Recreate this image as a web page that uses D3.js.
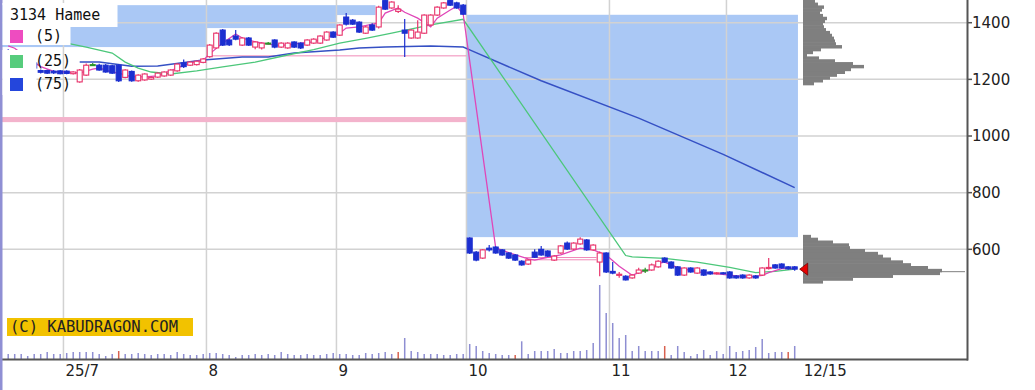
<!doctype html>
<html>
<head>
<meta charset="utf-8">
<script src="https://d3js.org/d3.v7.min.js"></script>
<style>
  body { margin: 0; background: #fff; }
  svg { display: block; }
</style>
</head>
<body>
<svg width="1035" height="390" id="chart"></svg>
<script>
// ---- data ----
var title = "3134 Hamee";
var maNames = ["(5)", "(25)", "(75)"];
var monthStarts = [9, 31, 51, 71, 93, 111];          // trading-day index of 1st day of month
var monthLabels = ["25/7", "8", "9", "10", "11", "12"];
var lastLabel = "12/15";
var priceTicks = [600, 800, 1000, 1200, 1400];

// daily candles, index 0 = first trading day shown: [open, high, low, close]
var candles = [
  [1300,1306,1282,1286],[1288,1292,1268,1271],[1272,1276,1252,1256],[1250,1266,1246,1262],[1258,1260,1236,1240],
  [1231,1235,1221,1225],[1231,1234,1219,1222],[1229,1233,1219,1223],[1230,1233,1218,1220],[1229,1232,1218,1221],
  [1220,1229,1217,1226],[1191,1237,1188,1233],[1215,1256,1212,1250],[1252,1258,1247,1252],[1250,1255,1230,1233],
  [1250,1254,1223,1226],[1248,1252,1219,1222],[1250,1253,1191,1195],[1207,1236,1204,1233],[1228,1231,1192,1195],
  [1195,1218,1192,1215],[1198,1222,1195,1219],[1201,1210,1198,1207],[1208,1225,1205,1222],[1212,1229,1209,1226],
  [1215,1236,1212,1233],[1230,1257,1227,1254],[1258,1270,1240,1245],[1250,1264,1247,1261],[1252,1267,1249,1264],
  [1260,1275,1257,1272],[1280,1325,1276,1321],[1311,1366,1308,1363],[1374,1378,1318,1321],[1339,1343,1318,1322],
  [1353,1374,1338,1342],[1321,1349,1318,1346],[1346,1350,1318,1321],[1314,1335,1306,1332],[1311,1331,1305,1328],
  [1328,1332,1324,1328],[1339,1342,1310,1314],[1314,1331,1311,1328],[1311,1331,1308,1328],[1332,1335,1311,1314],
  [1328,1331,1307,1311],[1321,1342,1318,1339],[1328,1345,1325,1342],[1328,1356,1325,1353],[1339,1370,1336,1367],
  [1367,1370,1346,1349],[1356,1395,1353,1392],[1420,1434,1390,1395],[1409,1413,1392,1395],[1402,1405,1364,1367],
  [1363,1388,1360,1385],[1392,1398,1371,1374],[1385,1460,1380,1455],[1478,1484,1445,1448],[1452,1476,1449,1473],
  [1440,1462,1434,1448],[1374,1413,1279,1363],[1346,1377,1343,1374],[1346,1409,1343,1367],[1363,1430,1360,1427],
  [1392,1430,1389,1427],[1427,1458,1424,1455],[1452,1473,1449,1470],[1478,1486,1459,1462],[1470,1474,1449,1452],
  [1462,1466,1428,1430],
  [640,643,583,587],[590,594,558,562],[569,601,566,598],[604,615,592,598],[608,611,584,587],
  [598,601,577,580],[587,590,566,569],[580,583,559,562],[558,561,542,545],[548,565,545,562],
  [590,600,569,572],[600,612,577,580],[594,597,573,576],[562,579,559,576],[587,615,584,612],
  [622,628,598,601],[601,625,598,622],[619,643,616,636],[633,636,595,598],[598,618,595,615],
  [555,592,505,587],[587,590,516,520],[522,555,512,516],[508,520,500,512],[505,508,490,492],
  [499,512,496,509],[516,535,513,527],[527,535,516,527],[527,550,524,545],[538,561,535,558],
  [569,572,552,555],[555,558,531,534],[538,541,506,509],[509,537,506,534],[534,537,517,520],
  [516,537,513,534],[527,530,506,509],[520,523,510,513],[514,520,511,517],[517,520,511,514],
  [520,523,496,499],[506,509,496,499],[509,512,496,499],[499,512,496,509],[506,509,496,499],
  [509,537,506,534],[532,569,529,536],[545,548,531,534],[548,551,531,534],[538,541,528,531],
  [538,541,524,530]
];

// volume (thousand shares), same index as candles
var volume = [
  50,50,50,30,50,50,70,50,50,60,
  70,70,70,70,50,30,50,80,50,50,
  60,50,40,50,50,40,70,50,40,40,
  50,60,60,50,40,20,40,40,50,40,
  50,40,70,50,40,40,50,40,40,50,
  60,50,50,40,40,60,50,60,70,50,
  70,210,80,70,50,50,50,40,40,50,
  50,150,130,80,60,50,40,40,40,177,
  50,80,80,80,100,60,60,80,80,90,
  160,740,460,360,210,240,80,130,80,80,
  80,130,40,130,70,30,50,90,40,80,
  50,130,70,80,90,120,200,60,70,70,
  70,130
];
var redVolumeDays = [17, 60, 78, 101, 120];

// moving averages: [day index, price]
var ma5 = [[0,1318],[1,1310],[3,1275],[5,1245],[7,1228],[9,1226],[11,1222],[13,1236],[14,1240],[16,1226],[17,1222],
  [19,1209],[21,1209],[23,1212],[26,1240],[28,1258],[30,1268],[31,1290],[33,1328],[35,1360],[36,1346],[38,1332],
  [41,1321],[43,1321],[45,1328],[47,1332],[49,1349],[51,1363],[52,1381],[54,1385],[57,1399],[58,1434],[60,1452],
  [61,1437],[63,1416],[65,1385],[66,1416],[68,1445],[69,1458],[70,1430],[75,605],[77,588],[80,566],[81,562],
  [83,572],[85,580],[88,604],[90,598],[92,580],[94,540],[96,508],[97,518],[99,530],[100,550],[101,555],[103,535],
  [106,520],[108,516],[111,509],[114,502],[116,508],[117,518],[119,532],[121,533]];
var ma25 = [[9,1328],[12,1314],[16,1293],[18,1261],[20,1240],[22,1226],[25,1219],[29,1230],[33,1244],[38,1261],
  [43,1286],[47,1305],[51,1328],[55,1345],[59,1363],[65,1392],[70,1412],[95,578],[96,573],[101,568],[106,555],
  [111,536],[115,518],[118,522],[121,530]];
var ma75 = [[11,1261],[14,1261],[19,1246],[23,1247],[30,1268],[36,1279],[40,1279],[44,1293],[51,1304],[54,1311],
  [58,1314],[65,1318],[70,1314],[71,1304],[82,1195],[97,1063],[110,935],[121,818]];

// open price gaps (windows): from day, to day, upper and lower price
var gapFrom = [-2, 31, 51, 71];
var gapTo = [31, 51, 57, 122];
var gapTop = [1462, 1462, 1462, 1428];
var gapBottom = [1314, 1381, 1427, 643];

// pink reference levels
var bandHigh = 1067, bandLow = 1049, bandFrom = -2, bandTo = 71;
var levelPrices = [1283, 571, 563];
var levelFrom = [31, 80, 80];
var levelTo = [71, 91, 91];

// volume-by-price profile: bin lower price (10 yen bins) and volume
var profileLow = [1180,1190,1200,1210,1220,1230,1240,1250,1260,1270,1280,1290,1300,1310,1320,1330,1340,1350,1360,
  1370,1380,1390,1400,1410,1420,1430,1440,1450,1460,1470,
  480,490,500,510,520,530,540,550,560,570,580,590,600,610,620,630,640];
var profileVol = [11,20,27,34,42,48,61,50,32,16,4,10,18,39,33,32,31,29,27,
  23,21,20,22,24,20,17,19,21,15,12,
  20,50,90,137,139,125,108,100,88,80,75,62,47,46,30,15,8];
var profilePeakPrice = 521, profilePeakVol = 162;

// ---- chart ----
var svg = d3.select("#chart");
var plotW = 967, plotH = 360, half = 3.25;

var x = d3.scaleLinear().domain([0, 121]).range([8.2, 794.7]);
var y = d3.scaleLinear().domain([209.2, 1480.2]).range([plotH, 0]);
var vh = d3.scaleLinear().domain([0, 1000]).range([0, 100]);
var pw = d3.scaleLinear().domain([0, 100]).range([0, 100]);

svg.append("defs").append("clipPath").attr("id", "plot")
  .append("rect").attr("x", 0).attr("y", 0).attr("width", plotW).attr("height", plotH);

var g = svg.append("g").attr("clip-path", "url(#plot)");

// gaps
g.selectAll(".gap").data(gapFrom).enter().append("rect")
  .attr("x", function (d) { return Math.max(0, x(d) - half); })
  .attr("width", function (d, i) { return x(gapTo[i]) - half - Math.max(0, x(d) - half); })
  .attr("y", function (d, i) { return y(gapTop[i]); })
  .attr("height", function (d, i) { return y(gapBottom[i]) - y(gapTop[i]); })
  .attr("fill", "#aac8f5");

// grid
g.selectAll(".hgrid").data(priceTicks).enter().append("line")
  .attr("x1", 0).attr("x2", plotW)
  .attr("y1", function (d) { return y(d); }).attr("y2", function (d) { return y(d); })
  .attr("stroke", "#d2d2d2").attr("stroke-width", 1.5);
g.selectAll(".vgrid").data(monthStarts).enter().append("line")
  .attr("x1", function (d) { return x(d) - half; }).attr("x2", function (d) { return x(d) - half; })
  .attr("y1", 0).attr("y2", plotH)
  .attr("stroke", "#d2d2d2").attr("stroke-width", 1.5);

// pink band and levels
g.append("rect")
  .attr("x", Math.max(0, x(bandFrom) - half))
  .attr("width", x(bandTo) - half - Math.max(0, x(bandFrom) - half))
  .attr("y", y(bandHigh)).attr("height", y(bandLow) - y(bandHigh))
  .attr("fill", "#f3b3cc");
g.selectAll(".level").data(levelPrices).enter().append("line")
  .attr("x1", function (d, i) { return x(levelFrom[i]) - half; })
  .attr("x2", function (d, i) { return x(levelTo[i]) - half; })
  .attr("y1", function (d) { return y(d); }).attr("y2", function (d) { return y(d); })
  .attr("stroke", "#f08ab8").attr("stroke-width", 1);

// volume bars
g.selectAll(".vol").data(volume).enter().append("line")
  .attr("x1", function (d, i) { return x(i); }).attr("x2", function (d, i) { return x(i); })
  .attr("y1", 359).attr("y2", function (d) { return 359 - vh(d); })
  .attr("stroke", function (d, i) { return redVolumeDays.indexOf(i) >= 0 ? "#d8614f" : "#8e8ed2"; })
  .attr("stroke-width", 1.5);

// volume profile
g.selectAll(".prof").data(profileLow).enter().append("rect")
  .attr("x", 803)
  .attr("y", function (d) { return y(d + 10) - 0.3; })
  .attr("height", function (d) { return y(d) - y(d + 10) + 0.6; })
  .attr("width", function (d, i) { return pw(profileVol[i]); })
  .attr("fill", "#7f7f7f");
g.append("line")
  .attr("x1", 803).attr("x2", 803 + pw(profilePeakVol))
  .attr("y1", y(profilePeakPrice)).attr("y2", y(profilePeakPrice))
  .attr("stroke", "#7f7f7f").attr("stroke-width", 1);

// moving averages
var line = d3.line().x(function (d) { return x(d[0]); }).y(function (d) { return y(d[1]); });
g.append("path").datum(ma75).attr("d", line).attr("fill", "none").attr("stroke", "#3550c4").attr("stroke-width", 1.5);
g.append("path").datum(ma25).attr("d", line).attr("fill", "none").attr("stroke", "#4cc77a").attr("stroke-width", 1.3);
g.append("path").datum(ma5).attr("d", line).attr("fill", "none").attr("stroke", "#e046b8").attr("stroke-width", 1.3);

// candles
var up = "#e8336b", down = "#1c2fd0", flat = "#2a962a";
function col(d) { return d[3] > d[0] ? up : (d[3] < d[0] ? down : flat); }
var cg = g.selectAll(".candle").data(candles).enter().append("g");
cg.append("line")
  .attr("x1", function (d, i) { return x(i); }).attr("x2", function (d, i) { return x(i); })
  .attr("y1", function (d) { return y(d[1]); }).attr("y2", function (d) { return y(d[2]); })
  .attr("stroke", col).attr("stroke-width", 1.2);
cg.append("rect")
  .attr("x", function (d, i) { return x(i) - 2.5; })
  .attr("width", 5)
  .attr("y", function (d) { return y(Math.max(d[0], d[3])); })
  .attr("height", function (d) { return Math.max(1, Math.abs(y(d[0]) - y(d[3]))); })
  .attr("fill", function (d) { return d[3] > d[0] ? "#fff" : col(d); })
  .attr("stroke", col).attr("stroke-width", 1.1);

// last price marker
var last = candles[candles.length - 1];
var lx = x(candles.length - 1) + 5, ly = y(last[3]);
g.append("path")
  .attr("d", "M" + lx + "," + ly + "L" + (lx + 8) + "," + (ly - 6) + "L" + (lx + 8) + "," + (ly + 6) + "Z")
  .attr("fill", "#e60000").attr("stroke", "#700").attr("stroke-width", 0.8);

// axes
svg.append("line").attr("x1", 0).attr("x2", plotW + 1).attr("y1", 359.5).attr("y2", 359.5)
  .attr("stroke", "#555").attr("stroke-width", 2);
svg.append("line").attr("x1", plotW + 0.5).attr("x2", plotW + 0.5).attr("y1", 0).attr("y2", 360.5)
  .attr("stroke", "#555").attr("stroke-width", 2);
svg.selectAll(".ytick").data(priceTicks).enter().append("line")
  .attr("x1", plotW).attr("x2", plotW + 5)
  .attr("y1", function (d) { return y(d); }).attr("y2", function (d) { return y(d); })
  .attr("stroke", "#555").attr("stroke-width", 1.5);
svg.selectAll(".ylab").data(priceTicks).enter().append("text")
  .attr("x", plotW + 5).attr("y", function (d) { return y(d); })
  .attr("dy", "0.36em")
  .style("font-family", "DejaVu Sans").style("font-size", "15px").attr("fill", "#222")
  .text(function (d) { return d; });
svg.selectAll(".xlab").data(monthStarts).enter().append("text")
  .attr("x", function (d) { return x(d) - half + 2; }).attr("y", 376)
  .style("font-family", "DejaVu Sans").style("font-size", "15px").attr("fill", "#222")
  .text(function (d, i) { return monthLabels[i]; });
svg.append("text")
  .attr("x", x(candles.length - 1) + 9).attr("y", 376)
  .style("font-family", "DejaVu Sans").style("font-size", "15px").attr("fill", "#222")
  .text(lastLabel);

// left frame
svg.append("rect").attr("x", 0).attr("y", 0).attr("width", 2.5).attr("height", 390).attr("fill", "#8f8fd4");

// legend
var mono = "DejaVu Sans Mono";
svg.append("rect").attr("x", 2.5).attr("y", 3).attr("width", 115).attr("height", 24).attr("fill", "#fff");
svg.append("text").attr("x", 10).attr("y", 20)
  .style("font-family", mono).style("font-size", "15px").attr("fill", "#111").text(title);
svg.append("rect").attr("x", 2.5).attr("y", 27).attr("width", 68).attr("height", 18).attr("fill", "#fff");
svg.append("rect").attr("x", 2.5).attr("y", 50).attr("width", 34).attr("height", 45).attr("fill", "#fff");
var legColors = ["#ee4cc0", "#56cc7c", "#2446dc"];
var legY = [30, 55, 78];
svg.selectAll(".legsq").data(maNames).enter().append("rect")
  .attr("x", 10).attr("y", function (d, i) { return legY[i]; })
  .attr("width", 13).attr("height", 13)
  .attr("fill", function (d, i) { return legColors[i]; });
svg.selectAll(".legtx").data(maNames).enter().append("text")
  .attr("x", 35).attr("y", function (d, i) { return legY[i] + 11; })
  .style("font-family", mono).style("font-size", "15px").attr("fill", "#111")
  .text(function (d) { return d; });

// watermark
svg.append("rect").attr("x", 7).attr("y", 318).attr("width", 186).attr("height", 18).attr("fill", "#f2c200");
svg.append("text").attr("x", 10).attr("y", 332)
  .style("font-family", mono).style("font-size", "15.5px").attr("fill", "#222")
  .text("(C) KABUDRAGON.COM");
</script>
</body>
</html>
